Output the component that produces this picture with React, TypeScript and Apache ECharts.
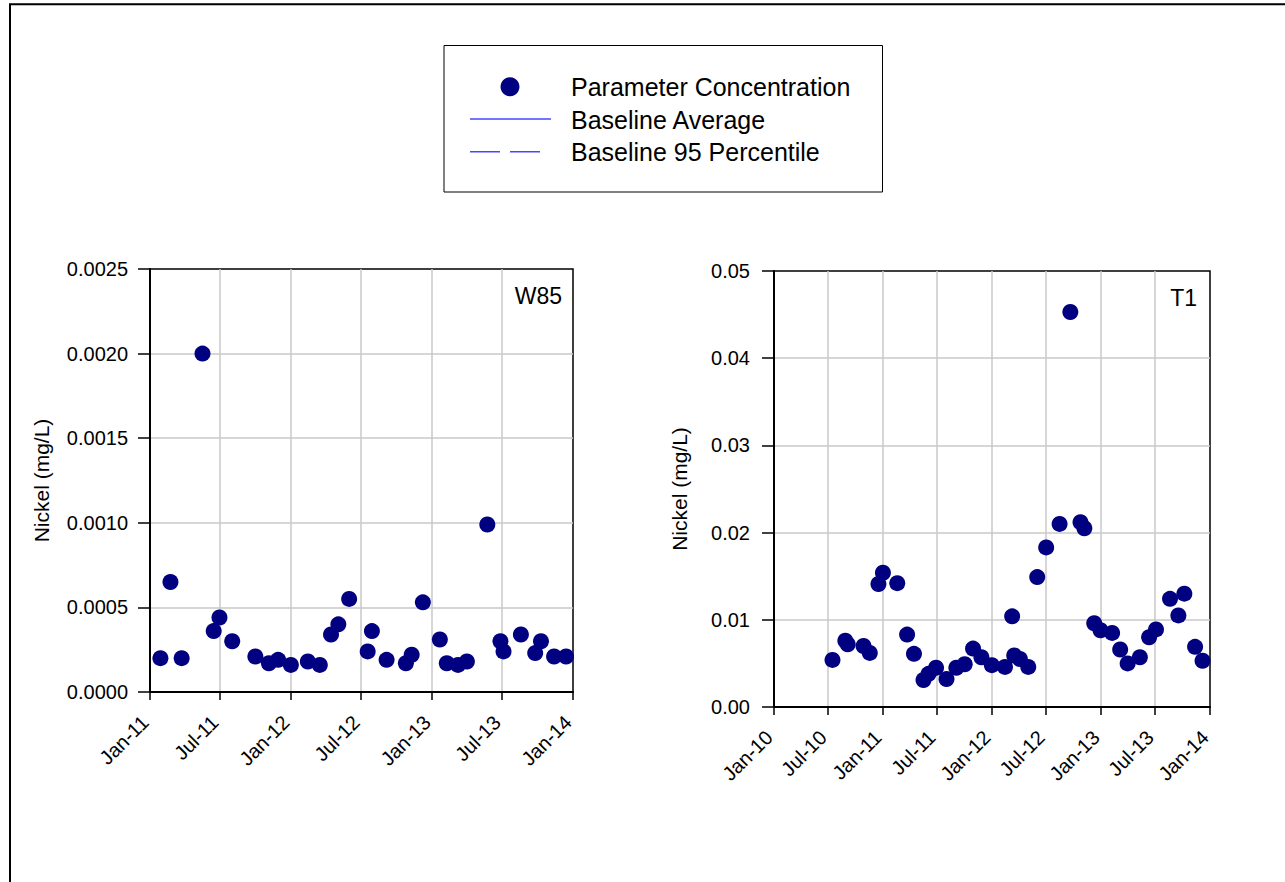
import React, { useEffect, useRef } from 'react';
import * as echarts from 'echarts';

// Month abbreviations used for the date tick labels (e.g. "Jan-11")
const MONTHS = ['Jan', 'Feb', 'Mar', 'Apr', 'May', 'Jun', 'Jul', 'Aug', 'Sep', 'Oct', 'Nov', 'Dec'];

const LEGEND_LABELS = ['Parameter Concentration', 'Baseline Average', 'Baseline 95 Percentile'];
const STATION_LEFT = 'W85';
const STATION_RIGHT = 'T1';
const Y_NAME = 'Nickel (mg/L)';

// Station W85 nickel samples
const W85_DATES = [
  '2011-01-28', '2011-02-23', '2011-03-24', '2011-05-17', '2011-06-15', '2011-06-30',
  '2011-08-02', '2011-10-01', '2011-11-05', '2011-11-29', '2012-01-01', '2012-02-14',
  '2012-03-16', '2012-04-14', '2012-05-03', '2012-05-31', '2012-07-18', '2012-07-29',
  '2012-09-05', '2012-10-25', '2012-11-09', '2012-12-08', '2013-01-21', '2013-02-08',
  '2013-03-09', '2013-04-01', '2013-05-24', '2013-06-27', '2013-07-05', '2013-08-19',
  '2013-09-25', '2013-10-10', '2013-11-13', '2013-12-14',
];
const W85_NICKEL = [
  0.0002, 0.00065, 0.0002, 0.002, 0.00036, 0.00044,
  0.0003, 0.00021, 0.00017, 0.00019, 0.00016, 0.00018,
  0.00016, 0.00034, 0.0004, 0.00055, 0.00024, 0.00036,
  0.00019, 0.00017, 0.00022, 0.00053, 0.00031, 0.00017,
  0.00016, 0.00018, 0.00099, 0.0003, 0.00024, 0.00034,
  0.00023, 0.0003, 0.00021, 0.00021,
];

// Station T1 nickel samples
const T1_DATES = [
  '2010-07-16', '2010-08-28', '2010-09-05', '2010-10-28', '2010-11-18', '2010-12-17',
  '2011-01-01', '2011-02-18', '2011-03-23', '2011-04-15', '2011-05-17', '2011-06-03',
  '2011-06-28', '2011-08-02', '2011-09-04', '2011-10-02', '2011-10-30', '2011-11-27',
  '2012-01-01', '2012-02-14', '2012-03-09', '2012-03-16', '2012-04-04', '2012-05-02',
  '2012-06-01', '2012-07-01', '2012-08-15', '2012-09-20', '2012-10-24', '2012-11-06',
  '2012-12-09', '2012-12-30', '2013-02-07', '2013-03-06', '2013-03-31', '2013-05-11',
  '2013-06-11', '2013-07-04', '2013-08-20', '2013-09-17', '2013-10-07', '2013-11-12',
  '2013-12-07',
];
const T1_NICKEL = [
  0.0054, 0.0076, 0.0072, 0.007, 0.0062, 0.0141,
  0.0154, 0.0142, 0.0083, 0.0061, 0.0031, 0.0038,
  0.0045, 0.0032, 0.0045, 0.0049, 0.0067, 0.0057,
  0.0048, 0.0046, 0.0104, 0.0059, 0.0055, 0.0046,
  0.0149, 0.0183, 0.021, 0.0453, 0.0212, 0.0205,
  0.0096, 0.0088, 0.0085, 0.0066, 0.005, 0.0057,
  0.008, 0.0089, 0.0124, 0.0105, 0.013, 0.0069,
  0.0053,
];

const FONT = '"Liberation Sans", Arial, sans-serif';
const MARKER = '#000080';
const BASELINE = '#4646ff';
const GRID_GRAY = '#c8c8c8';
const DAY = 86400000;

const ts = (s: string) => {
  const [y, m, d] = s.split('-').map(Number);
  return Date.UTC(y, m - 1, d);
};

const monthLabel = (v: number) => {
  const d = new Date(v);
  return MONTHS[d.getUTCMonth()] + '-' + String(d.getUTCFullYear()).slice(2);
};

const xAxisFor = (gridIndex: number, start: string, end: string) => ({
  type: 'time',
  gridIndex,
  min: ts(start),
  max: ts(end),
  minInterval: 180 * DAY,
  maxInterval: 185 * DAY,
  axisLine: { show: true, lineStyle: { color: '#000', width: 2 } },
  axisTick: { show: true, inside: false, length: 8, lineStyle: { color: '#000', width: 1.5 } },
  minorTick: { show: false },
  axisLabel: {
    rotate: 45,
    margin: 22,
    padding: [0, 7, 0, 0],
    fontSize: 20,
    fontFamily: FONT,
    color: '#000',
    hideOverlap: false,
    showMinLabel: true,
    showMaxLabel: true,
    formatter: (v: number) => monthLabel(v),
  },
  splitLine: {
    show: true,
    showMinLine: false,
    showMaxLine: false,
    lineStyle: { color: GRID_GRAY, width: 1.5 },
  },
});

const yAxisFor = (gridIndex: number, max: number, interval: number, digits: number, nameGap: number, margin: number) => ({
  type: 'value',
  gridIndex,
  min: 0,
  max,
  interval,
  name: Y_NAME,
  nameLocation: 'middle',
  nameGap,
  nameTextStyle: { fontSize: 21, fontFamily: FONT, color: '#000' },
  axisLine: { show: true, lineStyle: { color: '#000', width: 2 } },
  axisTick: { show: true, inside: false, length: 12, lineStyle: { color: '#000', width: 1.5 } },
  axisLabel: {
    margin,
    fontSize: 20,
    fontFamily: FONT,
    color: '#000',
    formatter: (v: number) => v.toFixed(digits),
  },
  splitLine: {
    show: true,
    showMinLine: false,
    showMaxLine: false,
    lineStyle: { color: GRID_GRAY, width: 1.5 },
  },
});

export default function App() {
  const ref = useRef<HTMLDivElement>(null);

  useEffect(() => {
    if (!ref.current) return;
    const chart = echarts.init(ref.current, null, { renderer: 'svg' });

    const legendTextStyle = { fontSize: 25, fontFamily: FONT, fill: '#000', align: 'left', verticalAlign: 'middle' };

    chart.setOption({
      animation: false,
      useUTC: true,
      backgroundColor: '#fff',
      grid: [
        { left: 150, top: 269, width: 423, height: 423, show: true, borderColor: '#000', borderWidth: 1.5, backgroundColor: 'transparent' },
        { left: 774, top: 271, width: 436, height: 436, show: true, borderColor: '#000', borderWidth: 1.5, backgroundColor: 'transparent' },
      ],
      xAxis: [xAxisFor(0, '2011-01-01', '2014-01-01'), xAxisFor(1, '2010-01-01', '2014-01-01')],
      yAxis: [yAxisFor(0, 0.0025, 0.0005, 4, 98, 22), yAxisFor(1, 0.05, 0.01, 2, 84, 24)],
      series: [
        {
          name: LEGEND_LABELS[0],
          type: 'scatter',
          xAxisIndex: 0,
          yAxisIndex: 0,
          symbol: 'circle',
          symbolSize: 16,
          itemStyle: { color: MARKER, opacity: 1 },
          data: W85_DATES.map((d, i) => [ts(d), W85_NICKEL[i]]),
        },
        {
          name: LEGEND_LABELS[0],
          type: 'scatter',
          xAxisIndex: 1,
          yAxisIndex: 1,
          symbol: 'circle',
          symbolSize: 16,
          itemStyle: { color: MARKER, opacity: 1 },
          data: T1_DATES.map((d, i) => [ts(d), T1_NICKEL[i]]),
        },
      ],
      graphic: [
        // outer frame
        {
          type: 'polyline',
          shape: { points: [[10, 900], [10, 4.3], [1300, 4.3]] },
          style: { stroke: '#000', lineWidth: 2, fill: null },
          silent: true,
        },
        // legend box
        {
          type: 'rect',
          shape: { x: 444, y: 45.5, width: 438.5, height: 146.5 },
          style: { stroke: '#000', lineWidth: 1, fill: '#fff' },
          silent: true,
        },
        {
          type: 'circle',
          shape: { cx: 510, cy: 86.7, r: 9.5 },
          style: { fill: MARKER },
          silent: true,
        },
        {
          type: 'line',
          shape: { x1: 470, y1: 119, x2: 551, y2: 119 },
          style: { stroke: BASELINE, lineWidth: 1.5 },
          silent: true,
        },
        {
          type: 'line',
          shape: { x1: 470, y1: 151.7, x2: 541, y2: 151.7 },
          style: { stroke: BASELINE, lineWidth: 1.5, lineDash: [30, 10] },
          silent: true,
        },
        { type: 'text', x: 571, y: 87, style: { ...legendTextStyle, text: LEGEND_LABELS[0] }, silent: true },
        { type: 'text', x: 571, y: 119.5, style: { ...legendTextStyle, text: LEGEND_LABELS[1] }, silent: true },
        { type: 'text', x: 571, y: 152, style: { ...legendTextStyle, text: LEGEND_LABELS[2] }, silent: true },
        // station names
        {
          type: 'text',
          x: 562,
          y: 295.5,
          style: { text: STATION_LEFT, fontSize: 23, fontFamily: FONT, fill: '#000', align: 'right', verticalAlign: 'middle' },
          silent: true,
        },
        {
          type: 'text',
          x: 1197,
          y: 298,
          style: { text: STATION_RIGHT, fontSize: 23, fontFamily: FONT, fill: '#000', align: 'right', verticalAlign: 'middle' },
          silent: true,
        },
      ],
    });

    return () => chart.dispose();
  }, []);

  return (
    <div
      ref={ref}
      style={{ position: 'absolute', left: 0, top: 0, width: 1285, height: 882, background: '#fff' }}
    />
  );
}
